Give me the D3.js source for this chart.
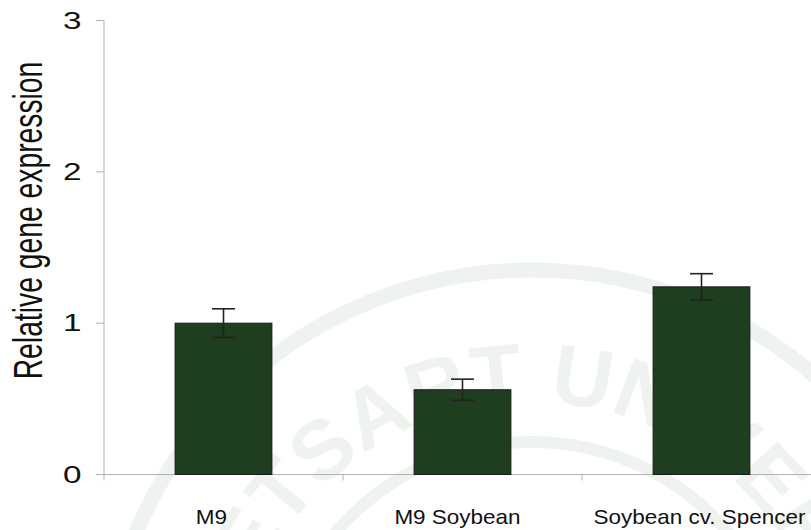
<!DOCTYPE html>
<html>
<head>
<meta charset="utf-8">
<script src="https://cdn.jsdelivr.net/npm/d3@7/dist/d3.min.js"></script>
<style>
  html, body { margin: 0; padding: 0; background: #fff; }
  svg { display: block; }
  text { font-family: "Liberation Sans", Arial, Helvetica, sans-serif; fill: #111; }
</style>
</head>
<body>
<svg id="chart" width="811" height="530"></svg>
<script>
// Relative expression per growth condition, with error half-widths
const categories = ["M9", "M9 Soybean", "Soybean cv. Spencer"];
const expression = [1.0, 0.56, 1.24];
const errors = [0.095, 0.07, 0.087];
const yTicks = [0, 1, 2, 3];

// small horizontal nudges for the category captions (px)
const captionNudge = [-12, -5, -2];

const svg = d3.select("#chart");
const W = 811, H = 530;

const y = d3.scaleLinear().domain([0, 3]).range([474.5, 20.5]);
const x = d3.scaleBand().domain(categories).range([104, 821])
  .paddingInner(0.595).paddingOuter(0.2975);

// faint institutional seal in the background
const seal = svg.append("g").attr("fill", "none");
const cx = 532, cy = 700;
seal.append("circle").attr("cx", cx).attr("cy", cy).attr("r", 430)
  .attr("stroke", "#eff3ef").attr("stroke-width", 15);
seal.append("circle").attr("cx", cx).attr("cy", cy).attr("r", 258)
  .attr("stroke", "#eff3ef").attr("stroke-width", 12);
const rText = 298;
svg.append("defs").append("path").attr("id", "sealArc")
  .attr("d", `M ${cx - rText},${cy} A ${rText},${rText} 0 0 1 ${cx + rText},${cy}`);
svg.append("text")
  .style("font-size", "84px").style("font-weight", "bold")
  .style("fill", "#eff3ef")
  .append("textPath").attr("href", "#sealArc")
  .attr("startOffset", "50%").attr("text-anchor", "middle")
  .text("KASETSART UNIVERSITY");

// axes
const axisColor = "#b3b3b3";
svg.append("line")
  .attr("x1", 104).attr("x2", 104)
  .attr("y1", y(3)).attr("y2", y(0))
  .attr("stroke", axisColor).attr("stroke-width", 1);
svg.selectAll(".ytick").data(yTicks).enter().append("line")
  .attr("x1", 96).attr("x2", 104)
  .attr("y1", d => y(d)).attr("y2", d => y(d))
  .attr("stroke", axisColor).attr("stroke-width", 1);
// wide digits for the value labels
svg.selectAll(".ylab").data(yTicks).enter().append("text")
  .attr("x", 63)
  .attr("y", d => y(d) + 8)
  .attr("textLength", 18.5)
  .attr("lengthAdjust", "spacingAndGlyphs")
  .style("font-size", "23px")
  .text(d => d);

svg.append("line")
  .attr("x1", 104).attr("x2", W)
  .attr("y1", y(0)).attr("y2", y(0))
  .attr("stroke", axisColor).attr("stroke-width", 1);
const boundaries = d3.range(categories.length + 1).map(i => 104 + i * x.step());
svg.selectAll(".xtick").data(boundaries).enter().append("line")
  .attr("x1", d => d).attr("x2", d => d)
  .attr("y1", y(0)).attr("y2", y(0) + 6)
  .attr("stroke", axisColor).attr("stroke-width", 1);

// bars
svg.selectAll(".bar").data(categories).enter().append("rect")
  .attr("x", d => x(d))
  .attr("y", (d, i) => y(expression[i]))
  .attr("width", x.bandwidth())
  .attr("height", (d, i) => y(0) - y(expression[i]))
  .attr("fill", "#1f3d1f")
  .attr("stroke", "#1a1a1a").attr("stroke-width", 1);

// error bars
const cap = 11.5;
const eb = svg.selectAll(".err").data(categories).enter().append("g")
  .attr("stroke", "#222").attr("stroke-width", 1.6);
eb.append("line")
  .attr("x1", d => x(d) + x.bandwidth() / 2).attr("x2", d => x(d) + x.bandwidth() / 2)
  .attr("y1", (d, i) => y(expression[i] + errors[i]))
  .attr("y2", (d, i) => y(expression[i] - errors[i]));
eb.append("line")
  .attr("x1", d => x(d) + x.bandwidth() / 2 - cap).attr("x2", d => x(d) + x.bandwidth() / 2 + cap)
  .attr("y1", (d, i) => y(expression[i] + errors[i]))
  .attr("y2", (d, i) => y(expression[i] + errors[i]));
eb.append("line")
  .attr("x1", d => x(d) + x.bandwidth() / 2 - cap).attr("x2", d => x(d) + x.bandwidth() / 2 + cap)
  .attr("y1", (d, i) => y(expression[i] - errors[i]))
  .attr("y2", (d, i) => y(expression[i] - errors[i]));

// category labels, slightly widened
svg.selectAll(".xlab").data(categories).enter().append("text")
  .attr("x", (d, i) => x(d) + x.bandwidth() / 2 + captionNudge[i])
  .attr("y", 524)
  .attr("text-anchor", "middle")
  .style("font-size", "21px")
  .text(d => d)
  .each(function () {
    const len = this.getComputedTextLength();
    d3.select(this).attr("textLength", len * 1.07).attr("lengthAdjust", "spacingAndGlyphs");
  });

// y axis title, condensed
svg.append("text")
  .attr("transform", "translate(42, 220.5) rotate(-90) scale(0.69, 1)")
  .attr("text-anchor", "middle")
  .style("font-size", "41px")
  .text("Relative gene expression");
</script>
</body>
</html>
